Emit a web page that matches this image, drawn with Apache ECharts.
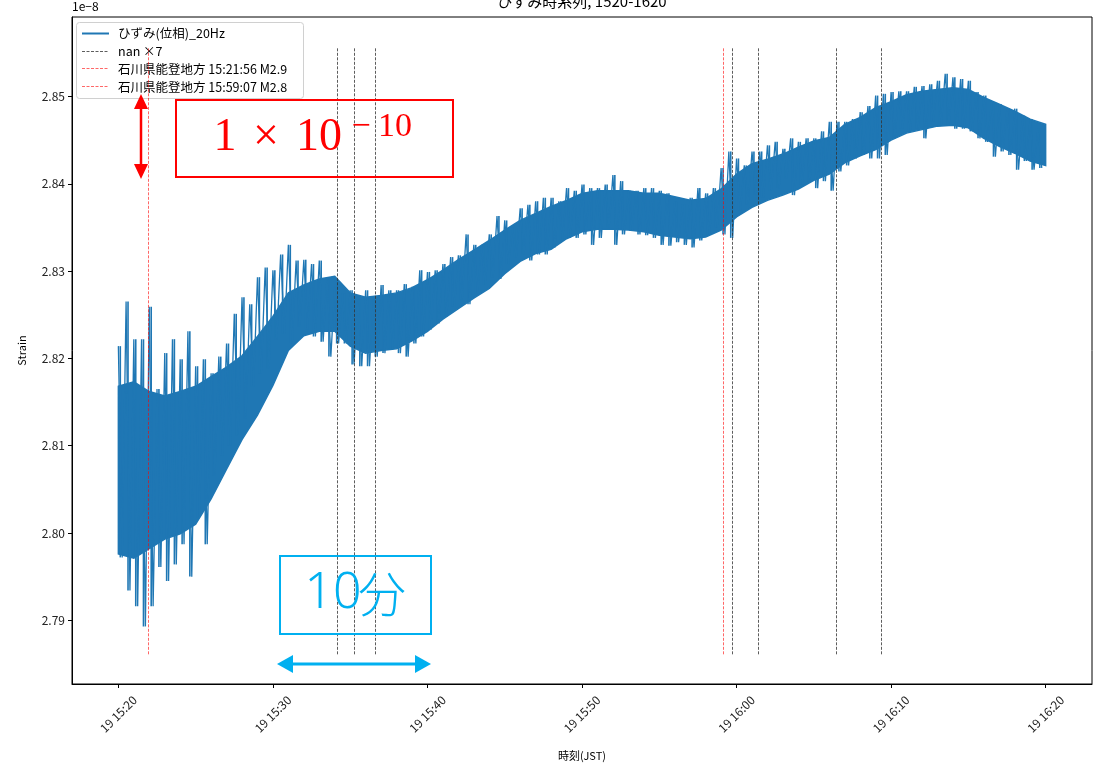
<!DOCTYPE html>
<html><head><meta charset="utf-8">
<script src="https://cdn.jsdelivr.net/npm/echarts@6/dist/echarts.min.js"></script>
<style>html,body{margin:0;padding:0;background:#fff}#c{width:1104px;height:766px}</style>
</head><body><div id="c"></div>
<script>
// time in minutes after 15:00 (JST, 19th)
const binStartMin = 20;
const binWidthMin = 0.5;
// spike envelope of the 20 Hz strain trace per 30 s bin (units of 1e-8)
const strainHi = [
 2.8214,2.8265,2.8222,2.8222,2.8259,2.8165,2.8206,2.8222,2.8199,2.8231,
 2.8191,2.8199,2.8183,2.8202,2.8217,2.8251,2.8270,2.8262,2.8293,2.8304,
 2.8301,2.8319,2.8330,2.8312,2.8313,2.8308,2.8312,2.8293,2.8282,2.8274,
 2.8278,2.8267,2.8278,2.8267,2.8284,2.8278,2.8278,2.8285,2.8282,2.8301,
 2.8299,2.8301,2.8308,2.8316,2.8318,2.8342,2.8330,2.8330,2.8342,2.8363,
 2.8358,2.8350,2.8372,2.8376,2.8380,2.8384,2.8384,2.8380,2.8395,2.8392,
 2.8399,2.8395,2.8395,2.8399,2.8410,2.8403,2.8392,2.8392,2.8395,2.8395,
 2.8392,2.8389,2.8380,2.8376,2.8384,2.8395,2.8389,2.8395,2.8418,2.8437,
 2.8429,2.8421,2.8437,2.8437,2.8444,2.8448,2.8440,2.8452,2.8448,2.8452,
 2.8452,2.8460,2.8471,2.8471,2.8471,2.8474,2.8482,2.8489,2.8501,2.8503,
 2.8505,2.8506,2.8506,2.8511,2.8512,2.8514,2.8518,2.8526,2.8522,2.8520,
 2.8518,2.8505,2.8501,2.8494,2.8491,2.8486,2.8486,2.8478,2.8474,2.8463
];
const strainLo = [
 2.7972,2.7934,2.7916,2.7893,2.7916,2.7961,2.7945,2.7964,2.7987,2.7950,
 2.8018,2.7987,2.8066,2.8089,2.8100,2.8112,2.8131,2.8168,2.8183,2.8188,
 2.8222,2.8228,2.8217,2.8236,2.8233,2.8225,2.8219,2.8202,2.8217,2.8217,
 2.8193,2.8191,2.8191,2.8202,2.8206,2.8210,2.8206,2.8202,2.8217,2.8225,
 2.8233,2.8240,2.8248,2.8259,2.8267,2.8262,2.8274,2.8285,2.8293,2.8291,
 2.8308,2.8316,2.8319,2.8312,2.8319,2.8319,2.8327,2.8335,2.8338,2.8338,
 2.8342,2.8330,2.8338,2.8350,2.8330,2.8342,2.8346,2.8342,2.8341,2.8338,
 2.8330,2.8329,2.8333,2.8330,2.8327,2.8335,2.8342,2.8350,2.8342,2.8338,
 2.8369,2.8376,2.8387,2.8384,2.8392,2.8395,2.8406,2.8387,2.8399,2.8403,
 2.8395,2.8403,2.8392,2.8414,2.8421,2.8429,2.8433,2.8429,2.8429,2.8433,
 2.8452,2.8463,2.8460,2.8463,2.8452,2.8471,2.8467,2.8467,2.8463,2.8463,
 2.8460,2.8452,2.8448,2.8431,2.8437,2.8433,2.8416,2.8426,2.8416,2.8418
];
// dense core of the trace, one value per minute (15:20 ... 16:20)
const coreStartMin = 20;
const coreHi = [
 2.8168,2.8173,2.8162,2.8157,2.8162,2.8168,2.8179,2.8190,2.8203,2.8225,
 2.8248,2.8275,2.8284,2.8291,2.8294,2.8275,2.8270,2.8272,2.8275,2.8281,
 2.8290,2.8301,2.8313,2.8324,2.8335,2.8347,2.8358,2.8366,2.8374,2.8381,
 2.8389,2.8392,2.8392,2.8392,2.8389,2.8389,2.8385,2.8381,2.8383,2.8394,
 2.8411,2.8423,2.8428,2.8434,2.8442,2.8449,2.8453,2.8468,2.8476,2.8487,
 2.8494,2.8502,2.8506,2.8508,2.8510,2.8508,2.8499,2.8491,2.8483,2.8474,
 2.8468
];
const coreLo = [
 2.7976,2.7971,2.7982,2.7993,2.7999,2.8010,2.8039,2.8073,2.8107,2.8135,
 2.8169,2.8209,2.8226,2.8231,2.8231,2.8214,2.8206,2.8209,2.8211,2.8220,
 2.8231,2.8245,2.8257,2.8269,2.8280,2.8297,2.8311,2.8320,2.8325,2.8337,
 2.8345,2.8348,2.8348,2.8347,2.8345,2.8341,2.8339,2.8337,2.8339,2.8347,
 2.8362,2.8373,2.8381,2.8387,2.8394,2.8404,2.8411,2.8424,2.8432,2.8439,
 2.8450,2.8458,2.8462,2.8466,2.8467,2.8464,2.8452,2.8443,2.8435,2.8426,
 2.8421
];
const xTickValues = [20,30,40,50,60,70,80];
const xTickLabels = ['19 15:20','19 15:30','19 15:40','19 15:50','19 16:00','19 16:10','19 16:20'];
const yTickValues = [2.79,2.80,2.81,2.82,2.83,2.84,2.85];
const nanTimes = [34.16,35.28,36.64,59.72,61.42,66.42,69.38];
const quakeTimes = [21.933,59.117];
const quakeNames = ['石川県能登地方 15:21:56 M2.9','石川県能登地方 15:59:07 M2.8'];
const mainName = 'ひずみ(位相)_20Hz';
const nanName = 'nan ×7';
const vlineRange = [2.7861,2.8556];

const FONT = '"Noto Sans CJK JP", sans-serif';
const BLUE = '#1f77b4', GREY = '#333', RED = 'rgba(255,0,0,0.75)';
const DASH = [3,1.5];

const spikeData = strainHi.map((h,i)=>[binStartMin + i*binWidthMin + binWidthMin/4, h, strainLo[i]]);
const zigzagData = [];
strainHi.forEach((h,i)=>{
  const t = binStartMin + i*binWidthMin;
  zigzagData.push([t,h]);
  zigzagData.push([t+binWidthMin/2,strainLo[i]]);
});
const coreTimes = coreHi.map((_,i)=>coreStartMin + i);

function vlines(times){
  return times.map(t=>[{coord:[t,vlineRange[0]]},{coord:[t,vlineRange[1]]}]);
}
const chart = echarts.init(document.getElementById('c'),null,{renderer:'canvas'});
const option = {
  animation:false,
  backgroundColor:'#fff',
  textStyle:{fontFamily:FONT},
  grid:{left:72,right:12,top:17,bottom:75,show:true,borderColor:'#000',borderWidth:1},
  xAxis:{
    type:'value',min:17,max:83,
    name:'時刻(JST)',nameLocation:'middle',nameGap:66,
    nameTextStyle:{fontSize:11,color:'#000',fontFamily:FONT},
    axisLine:{show:true,lineStyle:{color:'#000',width:1}},
    axisTick:{show:true,length:4,customValues:xTickValues,lineStyle:{color:'#000'}},
    axisLabel:{customValues:xTickValues,rotate:45,align:'center',verticalAlign:'middle',margin:30,
      fontSize:12,color:'#222',fontFamily:FONT,
      formatter:v=>xTickLabels[xTickValues.indexOf(Math.round(v))]||''},
    splitLine:{show:false}
  },
  yAxis:{
    type:'value',min:2.7827,max:2.8591,
    name:'Strain',nameLocation:'middle',nameGap:45,nameRotate:90,
    nameTextStyle:{fontSize:11,color:'#000',fontFamily:FONT},
    axisLine:{show:true,lineStyle:{color:'#000',width:1}},
    axisTick:{show:true,length:4,customValues:yTickValues,lineStyle:{color:'#000'}},
    axisLabel:{customValues:yTickValues,fontSize:12,color:'#222',margin:7,fontFamily:FONT,
      formatter:v=>v.toFixed(2)},
    splitLine:{show:false}
  },
  series:[
    {name:mainName+' core',type:'custom',coordinateSystem:'cartesian2d',silent:true,z:2,
     data:[[coreTimes[0],coreHi[0]]],
     renderItem:(params,api)=>{
       if(params.dataIndex!==0) return null;
       const top = coreTimes.map((t,i)=>api.coord([t,coreHi[i]]));
       const bot = coreTimes.map((t,i)=>api.coord([t,coreLo[i]])).reverse();
       return {type:'polygon',shape:{points:top.concat(bot)},style:{fill:BLUE,stroke:BLUE,lineWidth:1.5}};
     }},
    {name:mainName,type:'line',data:zigzagData,symbol:'none',showSymbol:false,silent:true,z:2,
     lineStyle:{color:BLUE,width:1.3}},
    {name:mainName+' spikes',type:'custom',coordinateSystem:'cartesian2d',silent:true,z:2,
     data:spikeData,
     renderItem:(params,api)=>{
       const t = api.value(0);
       const p1 = api.coord([t,api.value(1)]);
       const p2 = api.coord([t,api.value(2)]);
       return {type:'line',shape:{x1:p1[0],y1:p1[1],x2:p2[0],y2:p2[1]},style:{stroke:BLUE,lineWidth:1.6}};
     }},
    {name:nanName,type:'line',data:[],symbol:'none',z:3,
     markLine:{silent:true,symbol:['none','none'],label:{show:false},
       lineStyle:{color:GREY,width:0.8,type:DASH},data:vlines(nanTimes)}},
    {name:quakeNames[0],type:'line',data:[],symbol:'none',z:3,
     markLine:{silent:true,symbol:['none','none'],label:{show:false},
       lineStyle:{color:RED,width:0.8,type:DASH},data:vlines([quakeTimes[0]])}},
    {name:quakeNames[1],type:'line',data:[],symbol:'none',z:3,
     markLine:{silent:true,symbol:['none','none'],label:{show:false},
       lineStyle:{color:RED,width:0.8,type:DASH},data:vlines([quakeTimes[1]])}}
  ],
  graphic:[
    {type:'text',x:582,y:-6,style:{text:'ひずみ時系列, 1520-1620',fontSize:15,fill:'#000',fontFamily:FONT,align:'center'}},
    {type:'text',left:72,top:0,style:{text:'1e−8',fontSize:12,fill:'#000',fontFamily:FONT}},
    // legend (drawn by hand to match line-style swatches)
    {type:'group',z:100,children:[
      {type:'rect',shape:{x:76.5,y:22.5,width:227,height:76,r:3},style:{fill:'rgba(255,255,255,0.9)',stroke:'#d0d0d0',lineWidth:1}},
      {type:'line',shape:{x1:82,y1:33.5,x2:109,y2:33.5},style:{stroke:BLUE,lineWidth:2}},
      {type:'line',shape:{x1:82,y1:51.5,x2:109,y2:51.5},style:{stroke:GREY,lineWidth:0.8,lineDash:DASH}},
      {type:'line',shape:{x1:82,y1:68.5,x2:109,y2:68.5},style:{stroke:RED,lineWidth:0.8,lineDash:DASH}},
      {type:'line',shape:{x1:82,y1:86.5,x2:109,y2:86.5},style:{stroke:RED,lineWidth:0.8,lineDash:DASH}},
      {type:'text',x:118,y:33.5,style:{text:mainName,fontSize:12.5,fill:'#000',fontFamily:FONT,verticalAlign:'middle'}},
      {type:'text',x:118,y:51.5,style:{text:nanName,fontSize:12.5,fill:'#000',fontFamily:FONT,verticalAlign:'middle'}},
      {type:'text',x:118,y:69,style:{text:quakeNames[0],fontSize:12.5,fill:'#000',fontFamily:FONT,verticalAlign:'middle'}},
      {type:'text',x:118,y:87,style:{text:quakeNames[1],fontSize:12.5,fill:'#000',fontFamily:FONT,verticalAlign:'middle'}}
    ]},
    // red amplitude-scale annotation
    {type:'rect',z:10,shape:{x:176,y:100,width:277,height:77},style:{fill:'none',stroke:'#ff0000',lineWidth:2}},
    {type:'text',z:10,x:225,y:138,style:{text:'1',fontSize:46,fill:'#ff0000',fontFamily:'"Liberation Serif", serif',align:'center',verticalAlign:'middle'}},
    {type:'text',z:10,x:266,y:138,style:{text:'×',fontSize:46,fill:'#ff0000',fontFamily:'"Liberation Serif", serif',align:'center',verticalAlign:'middle'}},
    {type:'text',z:10,x:319,y:138,style:{text:'10',fontSize:46,fill:'#ff0000',fontFamily:'"Liberation Serif", serif',align:'center',verticalAlign:'middle'}},
    {type:'text',z:10,x:361,y:127,style:{text:'−',fontSize:34,fill:'#ff0000',fontFamily:'"Liberation Serif", serif',align:'center',verticalAlign:'middle'}},
    {type:'text',z:10,x:395,y:127,style:{text:'10',fontSize:34,fill:'#ff0000',fontFamily:'"Liberation Serif", serif',align:'center',verticalAlign:'middle'}},
    {type:'line',z:10,shape:{x1:141,y1:105,x2:141,y2:168},style:{stroke:'#ff0000',lineWidth:2.5}},
    {type:'polygon',z:10,shape:{points:[[141,94],[134,109],[148,109]]},style:{fill:'#ff0000'}},
    {type:'polygon',z:10,shape:{points:[[141,179],[134,164],[148,164]]},style:{fill:'#ff0000'}},
    // cyan time-scale annotation
    {type:'rect',z:10,shape:{x:280,y:556,width:151,height:78},style:{fill:'none',stroke:'#00b0f0',lineWidth:2}},
    {type:'text',z:10,x:333,y:594,style:{text:'10',fontSize:50,fontWeight:300,fill:'#00b0f0',fontFamily:'"Noto Sans", "Open Sans", sans-serif',align:'center',verticalAlign:'middle'}},
    {type:'text',z:10,x:382,y:594,style:{text:'分',fontSize:48,fontWeight:300,fill:'#00b0f0',fontFamily:'"Noto Sans CJK JP", sans-serif',align:'center',verticalAlign:'middle'}},
    {type:'line',z:10,shape:{x1:288,y1:664,x2:420,y2:664},style:{stroke:'#00b0f0',lineWidth:3}},
    {type:'polygon',z:10,shape:{points:[[277,664],[293,655],[293,673]]},style:{fill:'#00b0f0'}},
    {type:'polygon',z:10,shape:{points:[[431,664],[415,655],[415,673]]},style:{fill:'#00b0f0'}}
  ]
};
chart.setOption(option);
</script></body></html>
